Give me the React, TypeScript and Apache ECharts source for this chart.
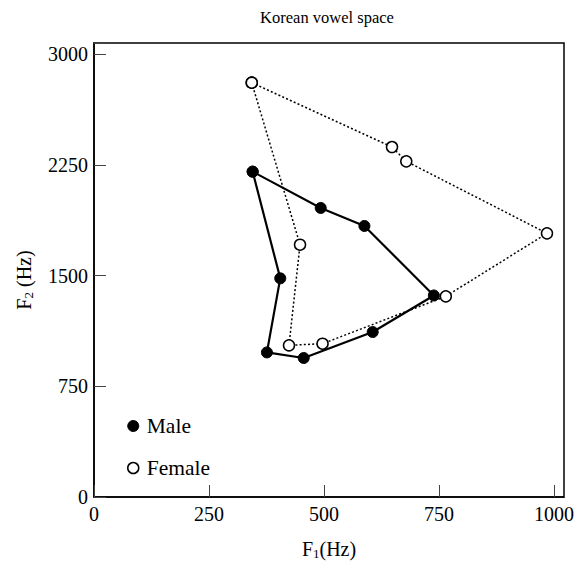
import React, { useEffect, useRef } from "react";
import * as echarts from "echarts";

// F1 / F2 formant values (Hz) for the vowel polygons, closed back to the first vowel
const maleF1 = [345, 493, 588, 739, 606, 456, 376, 405, 345];
const maleF2 = [2205, 1959, 1837, 1366, 1118, 942, 980, 1482, 2205];
const femaleF1 = [343, 648, 679, 985, 765, 497, 424, 448, 343];
const femaleF2 = [2808, 2372, 2275, 1787, 1360, 1039, 1028, 1710, 2808];

const xTicks = [0, 250, 500, 750, 1000];
const yTicks = [0, 750, 1500, 2250, 3000];

const FONT = "Liberation Serif";

export default function App() {
  const ref = useRef<HTMLDivElement>(null);

  useEffect(() => {
    if (!ref.current) return;
    const chart = echarts.init(ref.current, undefined, { renderer: "svg" });

    const male = maleF1.map((f1, i) => [f1, maleF2[i]]);
    const female = femaleF1.map((f1, i) => [f1, femaleF2[i]]);

    // axis-name rich text: "F" + subscript digit + "(Hz)"
    const subRich = {
      a: { fontFamily: FONT, fontSize: 20, lineHeight: 20, color: "#000", verticalAlign: "middle" },
      b: { fontFamily: FONT, fontSize: 13, lineHeight: 13, color: "#000", verticalAlign: "middle", padding: [8, 0, 0, 0] },
    };

    chart.setOption({
      animation: false,
      backgroundColor: "#fff",
      textStyle: { fontFamily: FONT, color: "#000" },
      title: {
        text: "Korean vowel space",
        left: 322,
        textAlign: "center",
        top: 4,
        textStyle: { fontFamily: FONT, fontSize: 16.5, fontWeight: "normal", color: "#000" },
      },
      grid: {
        left: 94,
        right: 12,
        top: 43,
        bottom: 66,
        outerBoundsMode: "none",
        containLabel: false,
        show: true,
        borderColor: "#000",
        borderWidth: 1.5,
      },
      legend: {
        orient: "vertical",
        left: 122,
        top: 410,
        itemWidth: 11,
        itemHeight: 11,
        itemGap: 20,
        textStyle: { fontFamily: FONT, fontSize: 21.5, color: "#000", lineHeight: 22, padding: [0, 0, 0, 3] },
        data: [
          { name: "Male", icon: "circle", itemStyle: { color: "#000", borderColor: "#000", borderWidth: 1 } },
          { name: "Female", icon: "circle", itemStyle: { color: "#fff", borderColor: "#000", borderWidth: 1.5 } },
        ],
      },
      xAxis: {
        type: "value",
        min: 0,
        max: 1022,
        interval: 250,
        name: "{a|F}{b|1}{a|(Hz)}",
        nameLocation: "middle",
        nameGap: 42,
        nameTextStyle: { rich: subRich },
        axisLine: { show: true, lineStyle: { color: "#000", width: 1.5 } },
        axisTick: { show: true, inside: true, length: 12, lineStyle: { color: "#444", width: 1 } },
        axisLabel: {
          fontFamily: FONT,
          fontSize: 20,
          color: "#000",
          margin: 7,
          formatter: (v: number) => (xTicks.includes(v) ? String(v) : ""),
        },
        splitLine: { show: false },
      },
      yAxis: {
        type: "value",
        min: 0,
        max: 3077,
        interval: 750,
        name: "{a|F}{b|2}{a| (Hz)}",
        nameLocation: "middle",
        nameGap: 60,
        nameRotate: 90,
        nameTextStyle: { rich: subRich, padding: [0, 20, 0, 0] },
        axisLine: { show: true, lineStyle: { color: "#000", width: 1.5 } },
        axisTick: { show: true, inside: true, length: 12, lineStyle: { color: "#444", width: 1 } },
        axisLabel: {
          fontFamily: FONT,
          fontSize: 20,
          color: "#000",
          margin: 6,
          formatter: (v: number) => (yTicks.includes(v) ? String(v) : ""),
        },
        splitLine: { show: false },
      },
      series: [
        {
          name: "Male",
          type: "line",
          data: male,
          symbol: "circle",
          symbolSize: 11,
          lineStyle: { color: "#000", width: 2.2 },
          itemStyle: { color: "#000", borderColor: "#000", borderWidth: 1 },
          z: 3,
        },
        {
          name: "Female",
          type: "line",
          data: female,
          symbol: "circle",
          symbolSize: 11,
          lineStyle: { color: "#000", width: 1.5, type: [2, 2.2] },
          itemStyle: { color: "#fff", borderColor: "#000", borderWidth: 1.5 },
          z: 2,
        },
      ],
    });

    return () => chart.dispose();
  }, []);

  return (
    <div
      ref={ref}
      style={{ position: "absolute", left: 0, top: 0, width: 576, height: 563 }}
    />
  );
}
